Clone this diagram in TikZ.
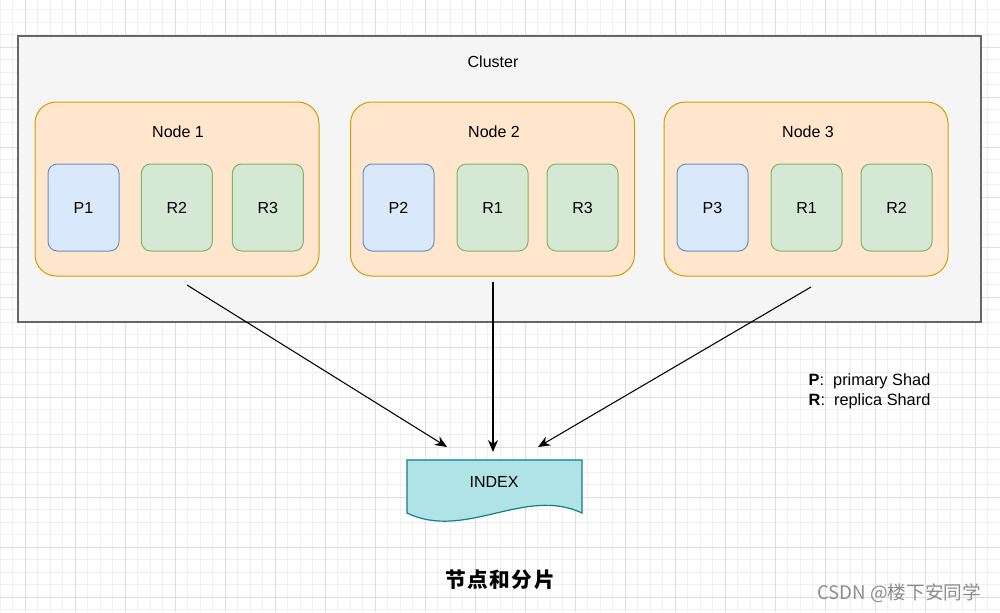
\documentclass[tikz,border=0pt]{standalone}
\usepackage{fontspec}
\setmainfont{Liberation Sans}
\newfontfamily\cjk{Noto Sans CJK SC}
\usetikzlibrary{positioning,arrows.meta}

\definecolor{gridminor}{HTML}{F0F0F0}
\definecolor{gridmajor}{HTML}{DEDEDE}
\definecolor{clusterfill}{HTML}{F5F5F5}
\definecolor{clusterline}{HTML}{666666}
\definecolor{hostfill}{HTML}{FFE6CC}
\definecolor{hostline}{HTML}{D79B00}
\definecolor{primfill}{HTML}{DAE8FC}
\definecolor{primline}{HTML}{6C8EBF}
\definecolor{replfill}{HTML}{D5E8D4}
\definecolor{replline}{HTML}{82B366}
\definecolor{indexfill}{HTML}{B0E3E6}
\definecolor{indexline}{HTML}{0E8088}

\begin{document}
\begin{tikzpicture}[x=0.75pt,y=-0.75pt,on grid,
    font=\fontsize{12}{14.5}\selectfont,
    >={Stealth[length=9pt,width=7.5pt]},
    cluster/.style={draw=clusterline,fill=clusterfill,line width=0.9pt,minimum width=722.25pt,minimum height=214.5pt,inner sep=0pt},
    host/.style={draw=hostline,fill=hostfill,line width=0.75pt,rounded corners=16pt,minimum width=213pt,minimum height=130.5pt,inner sep=0pt},
    prim/.style={draw=primline,fill=primfill,line width=0.75pt,rounded corners=7pt,minimum width=53.25pt,minimum height=65.25pt,inner sep=0pt},
    repl/.style={prim,draw=replline,fill=replfill},
    link/.style={->,line width=0.8pt}]
  \useasboundingbox (0,0) rectangle (1000,612);
  \fill[white] (0,0) rectangle (1000,612);
  \foreach \x in {0,12.5,...,1000} \draw[gridminor,line width=0.5pt] (\x,0) -- (\x,612);
  \foreach \y in {9.5,22,...,612} \draw[gridminor,line width=0.5pt] (0,\y) -- (1000,\y);
  \foreach \x in {25,75,...,1000} \draw[gridmajor,line width=0.5pt] (\x,0) -- (\x,612);
  \foreach \y in {-3,47,...,612} \draw[gridmajor,line width=0.5pt] (0,\y) -- (1000,\y);

  \node[cluster] (cluster) at (499.5,179) {};
  \node (clustertext) at (493,62) {Cluster};

  \node[host] (host1) at (177,189) {};
  \node[host] (host2) at (492.5,189) {};
  \node[host] (host3) at (806,189) {};
  \node (host1text) at (178,132) {Node 1};
  \node (host2text) at (494,132) {Node 2};
  \node (host3text) at (808,132) {Node 3};

  \node[prim] (p1) at (83.5,207.5) {P1};
  \node[repl] (r2a) [right=70pt of p1] {R2};
  \node[repl] (r3a) [right=68.25pt of r2a] {R3};
  \node[prim] (p2) at (398.5,207.5) {P2};
  \node[repl] (r1b) [right=70.5pt of p2] {R1};
  \node[repl] (r3b) [right=67.5pt of r1b] {R3};
  \node[prim] (p3) at (712.5,207.5) {P3};
  \node[repl] (r1c) [right=70.5pt of p3] {R1};
  \node[repl] (r2c) [right=67.5pt of r1c] {R2};

  \filldraw[fill=indexfill,draw=indexline,line width=0.9pt]
    (407,460) -- (582,460) -- (582,513)
    .. controls (525,486) and (465,541) .. (407,513) -- cycle;
  \node (index) at (494,482) {INDEX};

  \coordinate (from1) at (187,285);
  \coordinate (from2) at (493,282);
  \coordinate (from3) at (811,287);
  \coordinate (to1) at (447,447);
  \coordinate (to2) at (493,452);
  \coordinate (to3) at (538,447);
  \draw[link] (from1) -- (to1);
  \draw[link] (from2) -- (to2);
  \draw[link] (from3) -- (to3);

  \node[anchor=west,font=\fontsize{12.25}{14.5}\selectfont] (keyp) at (804,381) {\textbf{P}:\ \ primary Shad};
  \node[anchor=west,font=\fontsize{12.25}{14.5}\selectfont] (keyr) at (804,401) {\textbf{R}:\ \ replica Shard};

  \node (caption) at (500,580) {\cjk\fontsize{15.5}{18}\selectfont\bfseries 节\kern1.2pt 点\kern1.2pt 和\kern1.2pt 分\kern1.2pt 片};
  \node[anchor=east,text=black!45] (mark) at (986,593) {\cjk\fontsize{14}{16}\selectfont CSDN @楼下安同学};
\end{tikzpicture}
\end{document}
